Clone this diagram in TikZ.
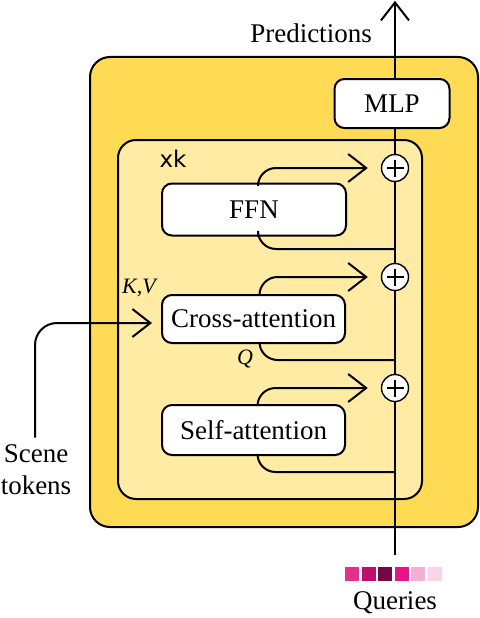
\documentclass[tikz,border=0pt]{standalone}
\usepackage{fontspec}
\setmainfont{Liberation Serif}
\newfontfamily\dejavu{DejaVu Sans}
\usetikzlibrary{arrows.meta}
\definecolor{outerY}{HTML}{FFDA55}
\definecolor{innerY}{HTML}{FFEBA3}
\definecolor{qa}{HTML}{E2308E}
\definecolor{qb}{HTML}{BE0E6E}
\definecolor{qc}{HTML}{720846}
\definecolor{qd}{HTML}{E5148A}
\definecolor{qe}{HTML}{F5AED6}
\definecolor{qf}{HTML}{FAD3E8}
\tikzset{
  blk/.style={draw, line width=2pt, fill=white, rounded corners=10pt, inner sep=0pt,
    font=\fontsize{27}{30}\selectfont},
  plusnode/.style={draw, circle, line width=1.4pt, fill=white, minimum size=27pt, inner sep=0pt},
  wire/.style={line width=2pt},
  arr/.style={wire, -{Straight Barb[length=18pt,width=28pt]}},
  lbl/.style={inner sep=0pt, font=\fontsize{27}{32}\selectfont},
  sq/.style={minimum size=14pt, inner sep=0pt},
}
\begin{document}
\begin{tikzpicture}[x=1pt,y=-1pt]
\useasboundingbox (0,0) rectangle (479,618);
% containers
\draw[line width=2pt, fill=outerY, rounded corners=20pt] (90,57) rectangle (478,527);
\draw[line width=2pt, fill=innerY, rounded corners=18pt] (118,140) rectangle (422,499);
\node[inner sep=0pt, font=\dejavu\fontsize{23}{26}\selectfont] (xk) at (173,159) {xk};

% nodes
\node[blk, minimum width=184pt, minimum height=52pt] (ffn) at (254,209.5) {FFN};
\node[blk, minimum width=183pt, minimum height=48pt] (cross) at (253.5,319) {Cross-attention};
\node[blk, minimum width=183pt, minimum height=50pt] (self) at (253.5,430) {Self-attention};
\node[blk, minimum width=115pt, minimum height=49pt] (mlp) at (392,103.5) {MLP};
\node[plusnode] (p1) at (395,168) {};
\node[plusnode] (p2) at (395,277) {};
\node[plusnode] (p3) at (395,388) {};
\foreach \p in {p1,p2,p3}{
  \draw[line width=1.2pt] ([xshift=-8.5pt]\p.center) -- ([xshift=8.5pt]\p.center);
  \draw[line width=1.2pt] ([yshift=-8.5pt]\p.center) -- ([yshift=8.5pt]\p.center);
}
\coordinate (qbot) at (395,555);
\coordinate (top) at (395,0.8);
\coordinate (j1) at (395,249);
\coordinate (j2) at (395,360);
\coordinate (j3) at (395,472);

% main line
\draw[wire] (qbot) -- (p3.south);
\draw[wire] (p3.north) -- (p2.south);
\draw[wire] (p2.north) -- (p1.south);
\draw[wire] (p1.north) -- (mlp.south -| p1);
\draw[arr] (mlp.north -| top) -- (top);

% residual branches
\draw[arr, rounded corners=18pt] ([xshift=4pt]ffn.north) |- ([xshift=-13pt]p1.west);
\draw[wire, rounded corners=18pt] ([xshift=4pt]ffn.south) |- (j1);
\draw[arr, rounded corners=18pt] ([xshift=6pt]cross.north) |- ([xshift=-13pt]p2.west);
\draw[wire, rounded corners=18pt] ([xshift=6pt]cross.south) |- (j2);
\draw[arr, rounded corners=18pt] ([xshift=4pt]self.north) |- ([xshift=-13pt]p3.west);
\draw[wire, rounded corners=18pt] ([xshift=4pt]self.south) |- (j3);

% labels
\node[inner sep=0pt, font=\itshape\fontsize{22}{24}\selectfont] (kv) at (139,288) {K,V};
\node[inner sep=0pt, font=\itshape\fontsize{22}{24}\selectfont] (q) at (245,359) {Q};

% scene tokens
\node[lbl, align=center] (scene) at (36,470) {Scene\\tokens};
\draw[arr, rounded corners=22pt] ([xshift=-1pt,yshift=7pt]scene.north) |- ([xshift=-9pt,yshift=-4pt]cross.west);

% predictions & queries
\node[lbl] (pred) at (311,33) {Predictions};
\node[lbl] (queries) at (395,603) {Queries};
\node[sq, fill=qa] (q1) at (352,574) {};
\node[sq, fill=qb] (q2) at (368.6,574) {};
\node[sq, fill=qc] (q3) at (385.2,574) {};
\node[sq, fill=qd] (q4) at (401.8,574) {};
\node[sq, fill=qe] (q5) at (418.4,574) {};
\node[sq, fill=qf] (q6) at (435,574) {};
\end{tikzpicture}
\end{document}
